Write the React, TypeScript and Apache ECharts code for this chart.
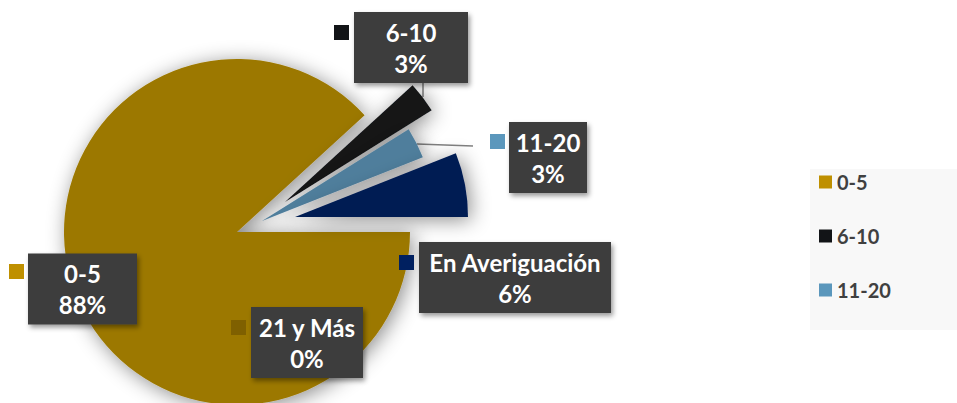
import React, { useEffect, useRef } from "react";
import * as echarts from "echarts";

// ---- data ----
const categories = ["0-5", "6-10", "11-20", "21 y Más", "En Averiguación"];
const values = [88.2, 2.9, 2.9, 0, 6.0];
const sliceColors = ["#9C7800", "#121315", "#4F7E9C", "#7F6000", "#001C52"];
const keyColors = ["#BF9000", "#121417", "#5B97BC", "#7F6000", "#002060"];
const legendItems = ["0-5", "6-10", "11-20"];

// ---- layout (positions / sizes only) ----
const CENTER = [237, 232];
const RADIUS = 173;
const explodeOffsets = [
  [0, 0],
  [48, -30],
  [25, -11],
  [0, 0],
  [58, -15],
];
// label boxes: [x1, y1, x2, y2]
const labelBoxes = [
  [28, 252, 137, 326],
  [354, 12, 468, 83],
  [509, 122, 587, 193],
  [251, 307, 363, 378],
  [419, 242, 611, 313],
];
// legend-key squares beside labels: [x, y] top-left
const keyBoxes = [
  [9, 264],
  [334, 25],
  [490, 134],
  [231, 320],
  [399, 255],
];
const KEY = 15;
const leaderLines: Record<number, number[][]> = {
  1: [
    [423, 83],
    [423, 90],
    [423, 97],
  ],
  2: [
    [473, 146],
    [445, 145],
    [417, 144],
  ],
};

const FONT = "Lato";

export default function App() {
  const ref = useRef<HTMLDivElement>(null);

  useEffect(() => {
    if (!ref.current) return;
    const chart = echarts.init(ref.current, null, { renderer: "svg" });

    const sliceSeries = categories.map((_, owner) => ({
      type: "pie",
      silent: true,
      animation: false,
      center: [CENTER[0] + explodeOffsets[owner][0], CENTER[1] + explodeOffsets[owner][1]],
      radius: RADIUS,
      startAngle: 0,
      clockwise: true,
      avoidLabelOverlap: false,
      percentPrecision: 0,
      emphasis: { disabled: true },
      z: 2,
      data: categories.map((name, j) => {
        const own = j === owner;
        const box = labelBoxes[j];
        return {
          name,
          value: values[j],
          itemStyle: own
            ? {
                color: sliceColors[j],
                shadowBlur: 20,
                shadowColor: "rgba(0,0,0,0.45)",
                shadowOffsetX: 3,
                shadowOffsetY: 3,
              }
            : { color: "rgba(0,0,0,0)" },
          label: {
            show: own,
            formatter: "{b}\n{d}%",
            color: "#ffffff",
            fontFamily: FONT,
            fontWeight: "bold",
            fontSize: 24,
            lineHeight: 31,
            width: box[2] - box[0],
            align: "center",
            padding: [5, 0, 4, 0],
            backgroundColor: "#3E3E3E",
            shadowBlur: 5,
            shadowColor: "rgba(0,0,0,0.4)",
            shadowOffsetX: 2,
            shadowOffsetY: 3,
          },
          labelLine: {
            show: own && leaderLines[j] != null,
            lineStyle: { color: "#808080", width: 1.5 },
          },
        };
      }),
      labelLayout: (params: any) => {
        const i = params.dataIndex;
        const b = labelBoxes[i];
        const res: any = {
          x: (b[0] + b[2]) / 2,
          y: (b[1] + b[3]) / 2,
          align: "center",
          verticalAlign: "middle",
        };
        if (leaderLines[i]) res.labelLinePoints = leaderLines[i];
        return res;
      },
    }));

    const keySeries = {
      type: "pie",
      silent: true,
      animation: false,
      center: CENTER,
      radius: RADIUS,
      startAngle: 0,
      clockwise: true,
      avoidLabelOverlap: false,
      emphasis: { disabled: true },
      legendHoverLink: false,
      z: 3,
      data: categories.map((name, j) => ({
        name,
        value: values[j],
        itemStyle: { color: "rgba(0,0,0,0)" },
        label: {
          show: true,
          formatter: "{k|}",
          rich: {
            k: { width: KEY, height: KEY, backgroundColor: keyColors[j] },
          },
        },
        labelLine: { show: false },
      })),
      labelLayout: (params: any) => {
        const k = keyBoxes[params.dataIndex];
        return {
          x: k[0] + KEY / 2,
          y: k[1] + KEY / 2,
          align: "center",
          verticalAlign: "middle",
        };
      },
    };

    chart.setOption({
      animation: false,
      backgroundColor: "#ffffff",
      legend: {
        show: true,
        orient: "vertical",
        left: 810,
        top: 169,
        padding: [3, 80, 30, 9],
        backgroundColor: "#F8F8F8",
        itemWidth: 13,
        itemHeight: 13,
        itemGap: 34,
        icon: "rect",
        selectedMode: false,
        textStyle: {
          fontFamily: FONT,
          fontWeight: "bold",
          fontSize: 20,
          lineHeight: 20,
          color: "#404040",
        },
        data: legendItems.map((name) => ({
          name,
          itemStyle: { color: keyColors[categories.indexOf(name)] },
        })),
      },
      series: [...sliceSeries, keySeries],
    });

    return () => chart.dispose();
  }, []);

  return (
    <div
      ref={ref}
      style={{ position: "fixed", left: 0, top: 0, width: 957, height: 403 }}
    />
  );
}
